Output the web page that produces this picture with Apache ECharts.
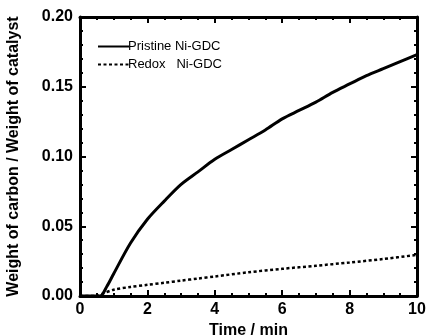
<!DOCTYPE html>
<html>
<head>
<meta charset="utf-8">
<script src="https://cdn.jsdelivr.net/npm/echarts@6/dist/echarts.min.js"></script>
<style>
  html, body { margin: 0; padding: 0; background: #fff; }
  #chart { width: 428px; height: 336px; }
</style>
</head>
<body>
<div id="chart"></div>
<script>
// Carbon deposition on Ni-GDC catalysts over time
const seriesNames = ['Pristine Ni-GDC', 'Redox   Ni-GDC'];

const pristineTime = [0, 0.5, 0.6, 0.8, 1.0, 1.5, 2.0, 2.5, 3.0, 3.5, 4.0, 4.5, 5.0, 5.5, 6.0, 6.5, 7.0, 7.5, 8.0, 8.5, 9.0, 9.5, 10.0];
const pristineRatio = [0, 0, 0, 0.007, 0.016, 0.038, 0.055, 0.068, 0.080, 0.089, 0.098, 0.105, 0.112, 0.119, 0.127, 0.133, 0.139, 0.146, 0.152, 0.158, 0.163, 0.168, 0.173];

const redoxTime = [0, 0.5, 0.7, 1.0, 1.5, 2.0, 2.5, 3.0, 3.5, 4.0, 5.0, 6.0, 7.0, 8.0, 9.0, 10.0];
const redoxRatio = [0, 0, 0.002, 0.0045, 0.0065, 0.008, 0.0095, 0.011, 0.0125, 0.014, 0.017, 0.0195, 0.0217, 0.024, 0.0265, 0.0295];

const xTicks = { min: 0, max: 10, interval: 2 };
const yTicks = { min: 0, max: 0.2, interval: 0.05 };

const FONT = 'Liberation Sans, Arial, Helvetica, sans-serif';

function pairs(xs, ys) { return xs.map((x, i) => [x, ys[i]]); }

function baseAxis(extra) {
  return Object.assign({
    axisLine: { show: true, onZero: false, lineStyle: { color: '#000', width: 3 } },
    axisTick: { show: true, inside: true, length: 6, lineStyle: { color: '#000', width: 2 } },
    splitLine: { show: false },
    minorSplitLine: { show: false }
  }, extra);
}

const minorX = { show: true, splitNumber: 4, length: 3, lineStyle: { color: '#000', width: 2 } };
const minorY = { show: true, splitNumber: 5, length: 3, lineStyle: { color: '#000', width: 2 } };

const chart = echarts.init(document.getElementById('chart'), null, { renderer: 'canvas' });

chart.setOption({
  animation: false,
  backgroundColor: '#fff',
  grid: { left: 80, right: 11, top: 17, bottom: 40, outerBoundsMode: 'none', containLabel: false },
  legend: {
    left: 92, top: 35, orient: 'vertical', itemWidth: 31, itemHeight: 10, itemGap: 5,
    data: seriesNames,
    // line samples only, no marker
    itemStyle: { color: 'rgba(0,0,0,0)', borderWidth: 0, opacity: 0 },
    textStyle: { fontFamily: FONT, fontSize: 13, color: '#000', padding: [0, 0, 0, -6] }
  },
  xAxis: [
    baseAxis({
      type: 'value', position: 'bottom', min: xTicks.min, max: xTicks.max, interval: xTicks.interval,
      minorTick: minorX,
      axisLabel: { color: '#000', fontFamily: FONT, fontWeight: 'bold', fontSize: 16, margin: 6 },
      name: 'Time / min', nameLocation: 'middle', nameGap: 27,
      nameTextStyle: { color: '#000', fontFamily: FONT, fontWeight: 'bold', fontSize: 16 }
    }),
    baseAxis({
      type: 'value', position: 'top', min: xTicks.min, max: xTicks.max, interval: xTicks.interval,
      minorTick: minorX,
      axisLabel: { show: false }
    })
  ],
  yAxis: [
    baseAxis({
      type: 'value', position: 'left', min: yTicks.min, max: yTicks.max, interval: yTicks.interval,
      minorTick: minorY,
      axisLabel: { color: '#000', fontFamily: FONT, fontWeight: 'bold', fontSize: 16, margin: 7,
        formatter: v => v.toFixed(2) },
      name: 'Weight of carbon / Weight of catalyst', nameLocation: 'middle', nameGap: 58,
      nameTextStyle: { color: '#000', fontFamily: FONT, fontWeight: 'bold', fontSize: 16 }
    }),
    baseAxis({
      type: 'value', position: 'right', min: yTicks.min, max: yTicks.max, interval: yTicks.interval,
      minorTick: minorY,
      axisLabel: { show: false }
    })
  ],
  series: [
    {
      name: seriesNames[0], type: 'line', xAxisIndex: 0, yAxisIndex: 0,
      data: pairs(pristineTime, pristineRatio),
      smooth: 0.3, symbol: 'none', showSymbol: false,
      lineStyle: { color: '#000', width: 3, type: 'solid' },
      itemStyle: { color: '#000' }
    },
    {
      name: seriesNames[1], type: 'line', xAxisIndex: 0, yAxisIndex: 0,
      data: pairs(redoxTime, redoxRatio),
      smooth: 0.3, symbol: 'none', showSymbol: false,
      lineStyle: { color: '#000', width: 2.5, type: [3, 2.5] },
      itemStyle: { color: '#000' }
    }
  ]
});
</script>
</body>
</html>
